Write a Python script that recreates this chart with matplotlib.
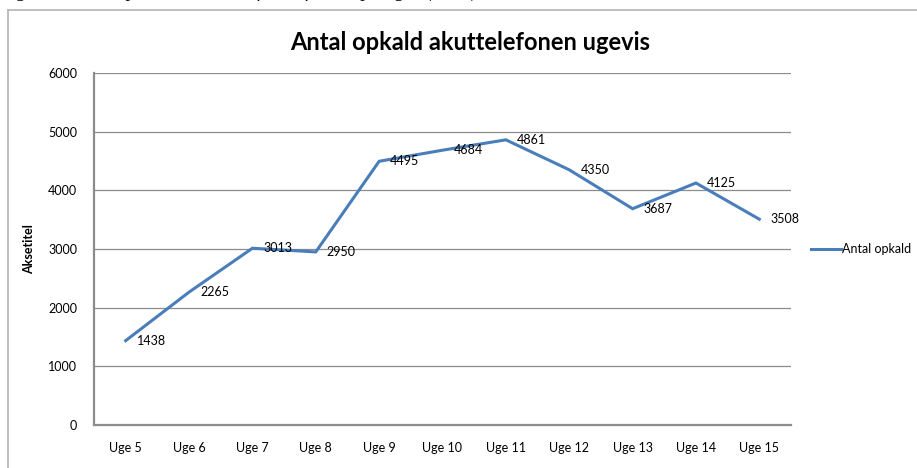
import matplotlib.pyplot as plt
from matplotlib.lines import Line2D

weeks = ['Uge 5', 'Uge 6', 'Uge 7', 'Uge 8', 'Uge 9', 'Uge 10',
         'Uge 11', 'Uge 12', 'Uge 13', 'Uge 14', 'Uge 15']
calls = [1438, 2265, 3013, 2950, 4495, 4684, 4861, 4350, 3687, 4125, 3508]
yticks = [0, 1000, 2000, 3000, 4000, 5000, 6000]

LINE_COLOR = '#4a7ebb'
GRID_COLOR = '#8c8c8c'

plt.rcParams['font.family'] = ['Lato', 'DejaVu Sans']

fig = plt.figure(figsize=(9.17, 4.68), dpi=100)
ax = fig.add_axes([94 / 917, 43 / 468, 697 / 917, 352 / 468])

x = list(range(len(weeks)))
ax.plot(x, calls, color=LINE_COLOR, lw=2.2, solid_joinstyle='miter', label='Antal opkald')

# data labels to the right of each point
for xi, v in zip(x, calls):
    ax.annotate(str(v), (xi, v), xytext=(8, 0), textcoords='offset points',
                va='center', ha='left', fontsize=9, color='black')

ax.set_xlim(-0.5, len(weeks) - 0.5)
ax.set_ylim(0, 6000)
ax.set_xticks(x)
ax.set_xticklabels(weeks, fontsize=9)
ax.set_yticks(yticks)
ax.set_yticklabels([str(t) for t in yticks], fontsize=9)
ax.tick_params(length=0)
ax.tick_params(axis='y', pad=12)
ax.tick_params(axis='x', pad=12)

ax.grid(axis='y', color=GRID_COLOR, lw=0.9)
ax.set_axisbelow(True)
for s in ['top', 'right']:
    ax.spines[s].set_visible(False)
for s in ['left', 'bottom']:
    ax.spines[s].set_color(GRID_COLOR)
    ax.spines[s].set_linewidth(1.6)

ax.set_ylabel('Aksetitel', fontsize=9, fontweight='bold')
ax.yaxis.set_label_coords(-59 / 697, 0.5)

fig.text(470 / 917, 1 - 42 / 468, 'Antal opkald akuttelefonen ugevis',
         ha='center', va='center', fontsize=17, fontweight='bold')

leg = ax.legend(loc='center left', bbox_to_anchor=(1.0, 0.5), frameon=False,
                fontsize=9, handlelength=2.4, handletextpad=0.1, borderaxespad=1.2)

# outer chart frame (left and top edges visible)
fig.add_artist(Line2D([8 / 917, 8 / 917], [0, 1 - 10 / 468], transform=fig.transFigure,
                      color='#b4b4b4', lw=1.2))
fig.add_artist(Line2D([8 / 917, 1], [1 - 10 / 468, 1 - 10 / 468], transform=fig.transFigure,
                      color='#b4b4b4', lw=1.2))

# caption above the chart, cut off by the page edge so only descenders show
fig.text(0.0, 1 + 3 / 468, 'Figur 2: Antal opkald til akuttelefonen fordelt på uger (2020)',
         ha='left', va='baseline', fontsize=14, style='italic', family='Liberation Serif')

fig.savefig('out.png', dpi=100)
